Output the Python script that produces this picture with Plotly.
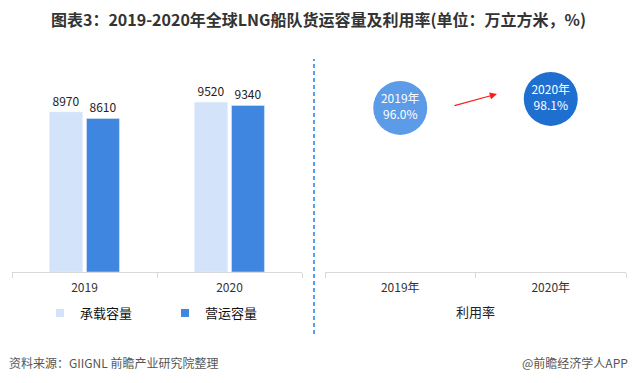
import plotly.graph_objects as go

# ---- data ----
years = ["2019", "2020"]
capacity_total = [8970, 9520]      # 承载容量
capacity_operating = [8610, 9340]  # 营运容量
rate_years = ["2019年", "2020年"]
utilization = [96.0, 98.1]         # 利用率 %

series_names = ["承载容量", "营运容量"]
title_text = "图表3：2019-2020年全球LNG船队货运容量及利用率(单位：万立方米，%)"
source_text = "资料来源：GIIGNL 前瞻产业研究院整理"
brand_text = "@前瞻经济学人APP"

W, H = 637, 383
ML, MR, MT, MB = 12, 11, 50, 111
PW = W - ML - MR
PH = H - MT - MB

def px_x(x):
    return (x - ML) / PW

def px_y(y):
    return (H - MB - y) / PH

light = "#D3E3FA"
blue = "#3E86E0"
font_cjk = "Noto Sans CJK SC"

fig = go.Figure()

fig.add_trace(go.Bar(
    x=years, y=capacity_total, name=series_names[0], marker_color=light,
    text=[str(v) for v in capacity_total], textposition="outside",
    textfont=dict(size=12, color="#222"), cliponaxis=False,
    showlegend=False, xaxis="x", yaxis="y"))
fig.add_trace(go.Bar(
    x=years, y=capacity_operating, name=series_names[1], marker_color=blue,
    text=[str(v) for v in capacity_operating], textposition="outside",
    textfont=dict(size=12, color="#222"), cliponaxis=False,
    showlegend=False, xaxis="x", yaxis="y"))

# legend proxies (small squares like the reference)
for nm, col in zip(series_names, [light, blue]):
    fig.add_trace(go.Scatter(
        x=[None], y=[None], mode="markers", name=nm,
        marker=dict(symbol="square", size=8, color=col),
        xaxis="x", yaxis="y"))

fig.add_trace(go.Scatter(
    x=rate_years, y=utilization, mode="markers+text",
    marker=dict(size=54, color=["#5B9BE8", "#1F6FD1"], line=dict(width=0)),
    text=[f"{y}<br>{v:.1f}%" for y, v in zip(rate_years, utilization)],
    textposition="middle center",
    textfont=dict(size=12, color="white"),
    showlegend=False, cliponaxis=False, xaxis="x2", yaxis="y2"))

axis_common = dict(
    showline=True, linecolor="#D9D9D9", linewidth=1,
    ticks="outside", tickcolor="#D9D9D9", ticklen=5, tickson="boundaries",
    ticklabelstandoff=5,
    showgrid=False, zeroline=False, fixedrange=True, range=[-0.5, 1.5],
    tickfont=dict(size=12, color="#333", family=font_cjk))

fig.update_layout(
    width=W, height=H,
    margin=dict(l=ML, r=MR, t=MT, b=MB, autoexpand=False),
    paper_bgcolor="white", plot_bgcolor="white",
    font=dict(family=font_cjk, color="#333"),
    barmode="group", bargap=0.49, bargroupgap=0.11,
    xaxis=dict(domain=[0, px_x(302)], type="category", **axis_common),
    yaxis=dict(range=[0, 12450], visible=False, fixedrange=True),
    xaxis2=dict(domain=[px_x(325), px_x(626)], type="category", anchor="y2",
                title=dict(text="利用率", font=dict(size=13, color="#222"), standoff=13),
                **axis_common),
    yaxis2=dict(range=[57.73, 109.5], visible=False, anchor="x2", fixedrange=True),
    legend=dict(orientation="h", x=px_x(40), xanchor="left", y=px_y(313), yanchor="middle",
                font=dict(size=13, color="#111"), entrywidth=80,
                bgcolor="rgba(0,0,0,0)"),
    title=dict(text=f"<b>{title_text}</b>", x=0.5, xanchor="center",
               y=1 - 20 / H, yanchor="middle", yref="container", xref="container",
               font=dict(size=16, color="#333", family=font_cjk)),
)

fig.add_shape(type="line", xref="paper", yref="paper",
              x0=px_x(314), x1=px_x(314), y0=px_y(334), y1=px_y(59),
              line=dict(color="#1E80F0", width=1.5, dash="4px,3px"))

fig.add_annotation(xref="paper", yref="paper", x=px_x(497), y=px_y(94),
                   ax=-44, ay=12, axref="pixel", ayref="pixel",
                   showarrow=True, arrowhead=2, arrowsize=1.2, arrowwidth=1.2,
                   arrowcolor="#FF1A1A", text="")

fig.add_annotation(xref="paper", yref="paper", x=px_x(7), y=px_y(362),
                   xanchor="left", yanchor="middle", showarrow=False,
                   text=source_text, font=dict(size=12, color="#555"))
fig.add_annotation(xref="paper", yref="paper", x=px_x(630), y=px_y(362),
                   xanchor="right", yanchor="middle", showarrow=False,
                   text=brand_text, font=dict(size=12, color="#555"))

fig.write_html("out.html", config={"displayModeBar": False},
               post_script="document.body.style.margin='0';")
